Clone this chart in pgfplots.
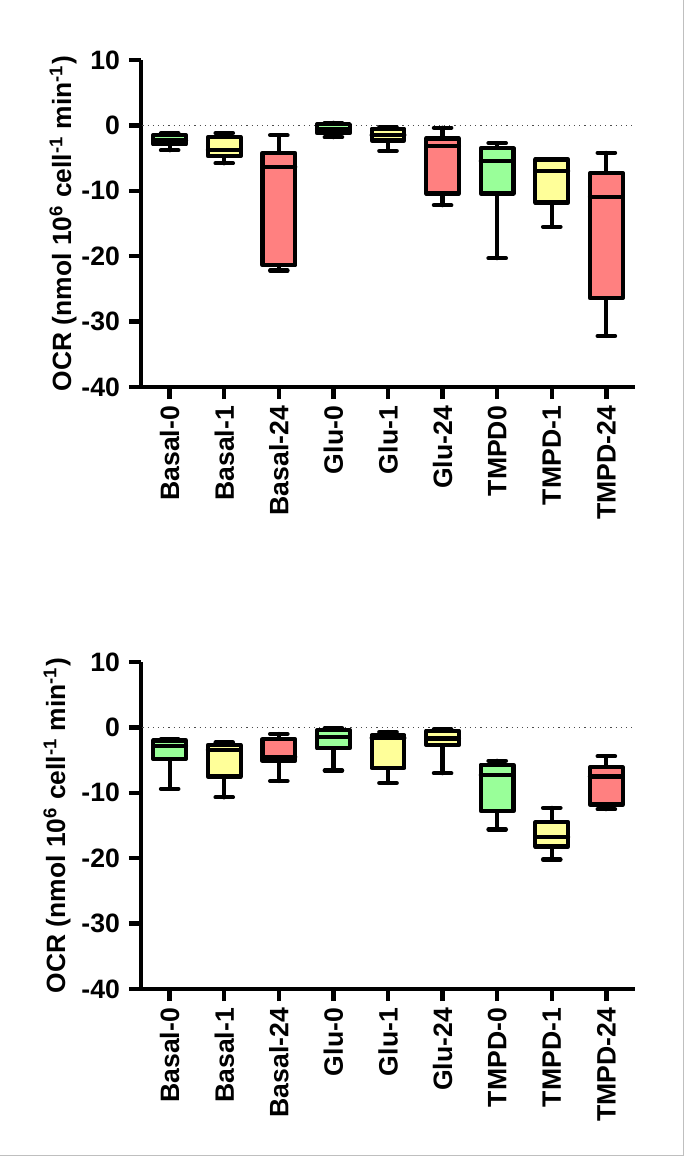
\documentclass[border=0pt]{standalone}
\usepackage{fontspec}
\setmainfont{Liberation Sans}
\usepackage{pgfplots}
\pgfplotsset{compat=1.18}
\usepgfplotslibrary{statistics}
\definecolor{bgreen}{RGB}{153,255,153}
\definecolor{byellow}{RGB}{255,255,153}
\definecolor{bred}{RGB}{255,128,128}
\pgfplotsset{
  bp/.style={draw=black, solid, line width=2.1pt, line join=round, line cap=round, mark=none,
    boxplot/draw direction=y,
    boxplot/box extend=0.6, boxplot/whisker extend=0.32},
  panel/.style={
    scale only axis, width=247pt, height=163.5pt,
    xmin=-0.525, xmax=8.525, ymin=-40, ymax=10,
    ytick={-40,-30,...,10}, xtick={0,...,8},
    axis x line=bottom, axis y line=left,
    axis line style={line width=2.2pt, -},
    tick style={line width=2.2pt, black},
    tick align=outside, major tick length=6pt,
    enlargelimits=false, clip=false,
    /pgf/number format/assume math mode=true,
    tick label style={font=\fontsize{13.3}{15}\selectfont\bfseries},
    yticklabel style={xshift=-1pt},
    xticklabel style={rotate=90, anchor=east},
    label style={font=\fontsize{13.2}{15}\selectfont\bfseries},
    ylabel={OCR (nmol 10\textsuperscript{6} cell\textsuperscript{-1} min\textsuperscript{-1})},
  }
}
\begin{document}
\begin{tikzpicture}
\useasboundingbox (0,0) rectangle (342.5pt,-578.5pt);
\draw[black!25, line width=0.6pt] (341.8pt,0) -- (341.8pt,-577.6pt) -- (0,-577.6pt);
% top panel
\begin{axis}[panel, at={(70.5pt,-30pt)}, anchor=north west,
  xticklabels={Basal-0,Basal-1,Basal-24,Glu-0,Glu-1,Glu-24,TMPD0,TMPD-1,TMPD-24},
  ylabel style={at={(axis description cs:-0.158,0.5)}, anchor=center}]
\addplot[black!70, dotted, line width=0.6pt] coordinates {(-0.5,0) (8.525,0)};
\addplot[bp, fill=bgreen, boxplot prepared={draw position=0, lower whisker=-3.8, lower quartile=-2.9, median=-2.3, upper quartile=-1.5, upper whisker=-1.2}] coordinates {};
\addplot[bp, fill=byellow, boxplot prepared={draw position=1, lower whisker=-5.8, lower quartile=-4.7, median=-3.7, upper quartile=-1.8, upper whisker=-1.2}] coordinates {};
\addplot[bp, fill=bred, boxplot prepared={draw position=2, lower whisker=-22.2, lower quartile=-21.4, median=-6.3, upper quartile=-4.2, upper whisker=-1.5}] coordinates {};
\addplot[bp, fill=bgreen, boxplot prepared={draw position=3, lower whisker=-1.8, lower quartile=-1.2, median=-0.6, upper quartile=0.2, upper whisker=0.4}] coordinates {};
\addplot[bp, fill=byellow, boxplot prepared={draw position=4, lower whisker=-3.9, lower quartile=-2.3, median=-1.5, upper quartile=-0.5, upper whisker=-0.3}] coordinates {};
\addplot[bp, fill=bred, boxplot prepared={draw position=5, lower whisker=-12.2, lower quartile=-10.4, median=-3.2, upper quartile=-2.0, upper whisker=-0.35}] coordinates {};
\addplot[bp, fill=bgreen, boxplot prepared={draw position=6, lower whisker=-20.3, lower quartile=-10.4, median=-5.5, upper quartile=-3.5, upper whisker=-2.7}] coordinates {};
\addplot[bp, fill=byellow, boxplot prepared={draw position=7, lower whisker=-15.5, lower quartile=-11.8, median=-7.0, upper quartile=-5.2, upper whisker=-5.2}] coordinates {};
\addplot[bp, fill=bred, boxplot prepared={draw position=8, lower whisker=-32.2, lower quartile=-26.4, median=-10.9, upper quartile=-7.3, upper whisker=-4.2}] coordinates {};
\end{axis}
% bottom panel
\begin{axis}[panel, at={(70.5pt,-331pt)}, anchor=north west,
  xticklabels={Basal-0,Basal-1,Basal-24,Glu-0,Glu-1,Glu-24,TMPD-0,TMPD-1,TMPD-24},
  ylabel style={at={(axis description cs:-0.17,0.5)}, anchor=center}]
\addplot[black!70, dotted, line width=0.6pt] coordinates {(-0.5,0) (8.525,0)};
\addplot[bp, fill=bgreen, boxplot prepared={draw position=0, lower whisker=-9.4, lower quartile=-4.8, median=-2.8, upper quartile=-2.0, upper whisker=-1.8}] coordinates {};
\addplot[bp, fill=byellow, boxplot prepared={draw position=1, lower whisker=-10.7, lower quartile=-7.5, median=-3.4, upper quartile=-2.7, upper whisker=-2.3}] coordinates {};
\addplot[bp, fill=bred, boxplot prepared={draw position=2, lower whisker=-8.2, lower quartile=-5.1, median=-4.5, upper quartile=-1.8, upper whisker=-1.0}] coordinates {};
\addplot[bp, fill=bgreen, boxplot prepared={draw position=3, lower whisker=-6.6, lower quartile=-3.2, median=-1.5, upper quartile=-0.4, upper whisker=-0.15}] coordinates {};
\addplot[bp, fill=byellow, boxplot prepared={draw position=4, lower whisker=-8.5, lower quartile=-6.2, median=-1.6, upper quartile=-1.2, upper whisker=-0.7}] coordinates {};
\addplot[bp, fill=byellow, boxplot prepared={draw position=5, lower whisker=-7.0, lower quartile=-2.7, median=-1.7, upper quartile=-0.5, upper whisker=-0.3}] coordinates {};
\addplot[bp, fill=bgreen, boxplot prepared={draw position=6, lower whisker=-15.6, lower quartile=-12.8, median=-7.3, upper quartile=-5.7, upper whisker=-5.1}] coordinates {};
\addplot[bp, fill=byellow, boxplot prepared={draw position=7, lower whisker=-20.2, lower quartile=-18.2, median=-16.8, upper quartile=-14.5, upper whisker=-12.3}] coordinates {};
\addplot[bp, fill=bred, boxplot prepared={draw position=8, lower whisker=-12.5, lower quartile=-11.8, median=-7.5, upper quartile=-6.1, upper whisker=-4.4}] coordinates {};
\end{axis}
\end{tikzpicture}
\end{document}
